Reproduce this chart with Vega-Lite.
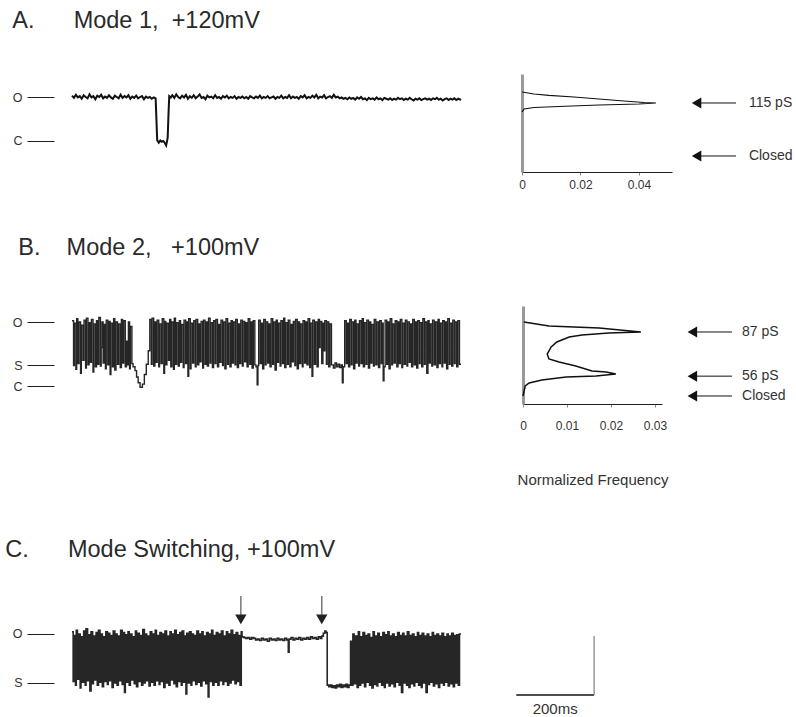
{
"$schema": "https://vega.github.io/schema/vega-lite/v6.json",
"padding": {"left": 5, "top": 8, "right": 0, "bottom": 0},
"background": "white",
"config": {"view": {"stroke": null}, "font": "Liberation Sans", "axis": {"grid": false},
  "title": {"fontSize": 23.5, "fontWeight": "normal", "color": "#2a2a2a", "anchor": "start", "frame": "bounds"}},
"datasets": {
"trA": [{"t":0,"v":1.03},{"t":5,"v":0.98},{"t":10,"v":1.05},{"t":15,"v":0.99},{"t":20,"v":1.02},{"t":25,"v":0.96},{"t":30,"v":1.04},{"t":35,"v":1.0},{"t":40,"v":0.97},{"t":45,"v":1.06},{"t":50,"v":0.99},{"t":55,"v":1.02},{"t":60,"v":0.95},{"t":65,"v":1.03},{"t":70,"v":1.0},{"t":75,"v":1.05},{"t":80,"v":0.97},{"t":85,"v":1.01},{"t":90,"v":0.98},{"t":95,"v":1.04},{"t":100,"v":0.99},{"t":105,"v":0.96},{"t":110,"v":1.03},{"t":115,"v":1.0},{"t":120,"v":0.97},{"t":125,"v":1.05},{"t":130,"v":0.98},{"t":135,"v":1.02},{"t":140,"v":0.99},{"t":145,"v":1.04},{"t":150,"v":0.96},{"t":155,"v":1.01},{"t":160,"v":0.98},{"t":165,"v":1.03},{"t":170,"v":0.97},{"t":175,"v":1.0},{"t":180,"v":1.02},{"t":185,"v":0.95},{"t":190,"v":1.01},{"t":195,"v":0.98},{"t":200,"v":1.0},{"t":205,"v":0.96},{"t":210,"v":0.99},{"t":215,"v":0.97},{"t":217,"v":0.5},{"t":219,"v":0.02},{"t":223,"v":-0.04},{"t":227,"v":0.01},{"t":231,"v":-0.02},{"t":235,"v":0.0},{"t":239,"v":-0.05},{"t":242,"v":-0.1},{"t":244,"v":-0.02},{"t":246,"v":0.08},{"t":248,"v":0.6},{"t":250,"v":1.02},{"t":254,"v":0.99},{"t":258,"v":1.04},{"t":263,"v":0.98},{"t":268,"v":1.06},{"t":273,"v":1.0},{"t":278,"v":0.97},{"t":283,"v":1.03},{"t":288,"v":0.99},{"t":293,"v":1.05},{"t":298,"v":0.96},{"t":303,"v":1.02},{"t":308,"v":0.98},{"t":313,"v":1.04},{"t":318,"v":0.97},{"t":323,"v":1.01},{"t":328,"v":1.06},{"t":333,"v":0.98},{"t":338,"v":1.0},{"t":343,"v":0.95},{"t":348,"v":1.03},{"t":353,"v":0.99},{"t":358,"v":1.01},{"t":363,"v":0.97},{"t":368,"v":1.04},{"t":373,"v":0.98},{"t":378,"v":1.0},{"t":383,"v":0.96},{"t":388,"v":1.02},{"t":393,"v":0.99},{"t":398,"v":1.03},{"t":403,"v":0.97},{"t":408,"v":1.0},{"t":413,"v":0.98},{"t":418,"v":1.02},{"t":423,"v":0.96},{"t":428,"v":1.0},{"t":433,"v":0.98},{"t":438,"v":1.01},{"t":443,"v":0.97},{"t":448,"v":1.0},{"t":453,"v":0.96},{"t":458,"v":1.02},{"t":463,"v":0.99},{"t":468,"v":0.97},{"t":473,"v":1.01},{"t":478,"v":0.98},{"t":483,"v":1.03},{"t":488,"v":0.97},{"t":493,"v":1.0},{"t":498,"v":0.98},{"t":503,"v":1.02},{"t":508,"v":0.97},{"t":513,"v":0.99},{"t":518,"v":1.01},{"t":523,"v":0.96},{"t":528,"v":1.0},{"t":533,"v":0.98},{"t":538,"v":1.03},{"t":543,"v":0.97},{"t":548,"v":1.0},{"t":553,"v":0.98},{"t":558,"v":1.04},{"t":563,"v":0.97},{"t":568,"v":1.01},{"t":573,"v":0.98},{"t":578,"v":1.0},{"t":583,"v":0.96},{"t":588,"v":1.02},{"t":593,"v":0.99},{"t":598,"v":1.04},{"t":603,"v":0.97},{"t":608,"v":1.0},{"t":613,"v":0.98},{"t":618,"v":1.03},{"t":623,"v":0.99},{"t":628,"v":1.05},{"t":633,"v":0.97},{"t":638,"v":1.01},{"t":643,"v":0.99},{"t":648,"v":1.04},{"t":653,"v":0.97},{"t":658,"v":1.0},{"t":663,"v":1.02},{"t":668,"v":0.98},{"t":673,"v":1.05},{"t":678,"v":0.99},{"t":683,"v":1.01},{"t":688,"v":0.97},{"t":693,"v":0.99},{"t":698,"v":0.96},{"t":703,"v":0.98},{"t":708,"v":0.95},{"t":713,"v":0.99},{"t":718,"v":0.96},{"t":723,"v":0.98},{"t":728,"v":0.94},{"t":733,"v":0.99},{"t":738,"v":0.96},{"t":743,"v":1.0},{"t":748,"v":0.95},{"t":753,"v":0.97},{"t":758,"v":0.93},{"t":763,"v":0.98},{"t":768,"v":0.95},{"t":773,"v":0.97},{"t":778,"v":0.94},{"t":783,"v":0.99},{"t":788,"v":0.95},{"t":793,"v":0.97},{"t":798,"v":0.93},{"t":803,"v":0.98},{"t":808,"v":0.96},{"t":813,"v":0.94},{"t":818,"v":0.97},{"t":823,"v":0.93},{"t":828,"v":0.96},{"t":833,"v":0.94},{"t":838,"v":0.98},{"t":843,"v":0.95},{"t":848,"v":0.97},{"t":853,"v":0.93},{"t":858,"v":0.96},{"t":863,"v":0.94},{"t":868,"v":0.98},{"t":873,"v":0.95},{"t":878,"v":0.92},{"t":883,"v":0.96},{"t":888,"v":0.94},{"t":893,"v":0.97},{"t":898,"v":0.93},{"t":903,"v":0.95},{"t":908,"v":0.97},{"t":913,"v":0.94},{"t":918,"v":0.96},{"t":923,"v":0.93},{"t":928,"v":0.97},{"t":933,"v":0.95},{"t":938,"v":0.98},{"t":943,"v":0.94},{"t":948,"v":0.96},{"t":953,"v":0.92},{"t":958,"v":0.95},{"t":963,"v":0.97},{"t":968,"v":0.93},{"t":973,"v":0.96},{"t":978,"v":0.94},{"t":983,"v":0.97},{"t":988,"v":0.93},{"t":993,"v":0.96},{"t":998,"v":0.94},{"t":1000,"v":0.95}],
"trB": [{"t":0,"v":1.02},{"t":4,"v":0.32},{"t":6,"v":0.98},{"t":10,"v":0.26},{"t":12,"v":1.05},{"t":15,"v":0.35},{"t":18,"v":1.0},{"t":22,"v":0.2},{"t":24,"v":0.95},{"t":28,"v":0.4},{"t":31,"v":1.03},{"t":35,"v":0.28},{"t":37,"v":1.06},{"t":41,"v":0.33},{"t":44,"v":0.99},{"t":47,"v":0.37},{"t":50,"v":1.04},{"t":54,"v":0.22},{"t":56,"v":0.97},{"t":60,"v":0.3},{"t":63,"v":1.02},{"t":66,"v":0.34},{"t":69,"v":1.07},{"t":73,"v":0.31},{"t":75,"v":0.6},{"t":77,"v":1.0},{"t":80,"v":0.36},{"t":83,"v":0.96},{"t":86,"v":0.27},{"t":88,"v":1.03},{"t":92,"v":0.33},{"t":95,"v":1.01},{"t":98,"v":0.18},{"t":100,"v":0.98},{"t":104,"v":0.3},{"t":107,"v":1.05},{"t":110,"v":0.25},{"t":113,"v":1.0},{"t":117,"v":0.34},{"t":120,"v":0.97},{"t":124,"v":0.29},{"t":127,"v":1.04},{"t":130,"v":0.36},{"t":133,"v":1.02},{"t":137,"v":0.3},{"t":140,"v":0.7},{"t":142,"v":0.33},{"t":145,"v":1.0},{"t":148,"v":0.27},{"t":150,"v":0.93},{"t":154,"v":0.35},{"t":157,"v":0.3},{"t":162,"v":0.24},{"t":166,"v":0.14},{"t":170,"v":0.05},{"t":175,"v":-0.02},{"t":181,"v":0.03},{"t":186,"v":0.18},{"t":191,"v":0.34},{"t":196,"v":0.55},{"t":200,"v":1.04},{"t":204,"v":0.34},{"t":206,"v":1.06},{"t":210,"v":0.31},{"t":213,"v":1.0},{"t":216,"v":0.37},{"t":219,"v":1.03},{"t":223,"v":0.3},{"t":225,"v":0.97},{"t":229,"v":0.35},{"t":232,"v":1.05},{"t":236,"v":0.2},{"t":238,"v":1.01},{"t":241,"v":0.33},{"t":244,"v":0.98},{"t":248,"v":0.4},{"t":251,"v":1.04},{"t":254,"v":0.3},{"t":257,"v":1.0},{"t":261,"v":0.26},{"t":263,"v":1.06},{"t":266,"v":0.34},{"t":269,"v":0.99},{"t":273,"v":0.31},{"t":276,"v":1.02},{"t":279,"v":0.37},{"t":282,"v":0.96},{"t":286,"v":0.29},{"t":288,"v":1.03},{"t":292,"v":0.35},{"t":295,"v":1.0},{"t":298,"v":0.15},{"t":300,"v":1.05},{"t":304,"v":0.27},{"t":306,"v":0.98},{"t":310,"v":0.36},{"t":313,"v":1.02},{"t":317,"v":0.3},{"t":319,"v":1.04},{"t":323,"v":0.33},{"t":326,"v":0.97},{"t":329,"v":0.38},{"t":332,"v":1.01},{"t":336,"v":0.28},{"t":338,"v":1.03},{"t":342,"v":0.34},{"t":345,"v":1.0},{"t":348,"v":0.31},{"t":351,"v":1.06},{"t":355,"v":0.36},{"t":357,"v":0.99},{"t":361,"v":0.29},{"t":364,"v":1.02},{"t":368,"v":0.35},{"t":370,"v":1.04},{"t":374,"v":0.3},{"t":377,"v":0.96},{"t":380,"v":0.37},{"t":383,"v":1.03},{"t":387,"v":0.32},{"t":389,"v":1.0},{"t":393,"v":0.27},{"t":396,"v":1.05},{"t":400,"v":0.34},{"t":402,"v":0.98},{"t":406,"v":0.3},{"t":409,"v":1.02},{"t":412,"v":0.36},{"t":415,"v":1.0},{"t":419,"v":0.33},{"t":421,"v":1.04},{"t":425,"v":0.29},{"t":428,"v":0.97},{"t":431,"v":0.35},{"t":434,"v":1.03},{"t":438,"v":0.31},{"t":440,"v":1.01},{"t":444,"v":0.38},{"t":447,"v":0.99},{"t":450,"v":0.3},{"t":453,"v":1.05},{"t":457,"v":0.34},{"t":460,"v":1.0},{"t":463,"v":0.28},{"t":466,"v":1.02},{"t":470,"v":0.33},{"t":473,"v":0.3},{"t":476,"v":0.02},{"t":478,"v":0.32},{"t":480,"v":1.03},{"t":484,"v":0.35},{"t":487,"v":0.98},{"t":490,"v":0.27},{"t":493,"v":1.04},{"t":497,"v":0.33},{"t":499,"v":1.0},{"t":503,"v":0.36},{"t":506,"v":0.97},{"t":509,"v":0.3},{"t":512,"v":1.05},{"t":516,"v":0.34},{"t":518,"v":1.0},{"t":522,"v":0.25},{"t":525,"v":1.03},{"t":528,"v":0.37},{"t":531,"v":0.98},{"t":535,"v":0.31},{"t":537,"v":1.02},{"t":541,"v":0.35},{"t":544,"v":1.06},{"t":547,"v":0.29},{"t":550,"v":0.99},{"t":554,"v":0.34},{"t":556,"v":1.03},{"t":560,"v":0.3},{"t":563,"v":0.96},{"t":566,"v":0.38},{"t":569,"v":1.01},{"t":573,"v":0.32},{"t":575,"v":1.04},{"t":579,"v":0.27},{"t":582,"v":1.0},{"t":585,"v":0.35},{"t":588,"v":0.97},{"t":592,"v":0.3},{"t":594,"v":1.02},{"t":598,"v":0.36},{"t":601,"v":1.0},{"t":604,"v":0.33},{"t":607,"v":1.05},{"t":611,"v":0.29},{"t":613,"v":0.98},{"t":617,"v":0.15},{"t":619,"v":1.03},{"t":623,"v":0.34},{"t":626,"v":1.0},{"t":630,"v":0.3},{"t":633,"v":1.04},{"t":636,"v":0.6},{"t":638,"v":1.01},{"t":642,"v":0.35},{"t":645,"v":0.98},{"t":648,"v":0.55},{"t":650,"v":1.02},{"t":654,"v":0.34},{"t":656,"v":1.0},{"t":660,"v":0.3},{"t":663,"v":0.97},{"t":667,"v":0.33},{"t":672,"v":0.28},{"t":676,"v":0.36},{"t":680,"v":0.3},{"t":684,"v":0.34},{"t":688,"v":0.29},{"t":692,"v":0.33},{"t":695,"v":0.05},{"t":697,"v":0.3},{"t":701,"v":1.02},{"t":705,"v":0.35},{"t":708,"v":0.98},{"t":711,"v":0.3},{"t":714,"v":1.04},{"t":718,"v":0.33},{"t":720,"v":1.0},{"t":724,"v":0.27},{"t":727,"v":1.03},{"t":730,"v":0.36},{"t":733,"v":0.97},{"t":737,"v":0.31},{"t":739,"v":1.02},{"t":743,"v":0.35},{"t":746,"v":1.05},{"t":749,"v":0.3},{"t":752,"v":0.99},{"t":756,"v":0.34},{"t":758,"v":1.03},{"t":762,"v":0.28},{"t":765,"v":1.0},{"t":768,"v":0.36},{"t":771,"v":0.96},{"t":775,"v":0.31},{"t":777,"v":1.04},{"t":781,"v":0.33},{"t":784,"v":1.0},{"t":788,"v":0.29},{"t":791,"v":1.02},{"t":795,"v":0.35},{"t":797,"v":0.98},{"t":800,"v":0.08},{"t":802,"v":0.3},{"t":805,"v":1.03},{"t":809,"v":0.34},{"t":812,"v":1.0},{"t":815,"v":0.27},{"t":818,"v":1.05},{"t":822,"v":0.33},{"t":824,"v":0.97},{"t":828,"v":0.36},{"t":831,"v":1.02},{"t":835,"v":0.3},{"t":838,"v":1.0},{"t":841,"v":0.35},{"t":844,"v":1.04},{"t":848,"v":0.29},{"t":850,"v":0.98},{"t":854,"v":0.34},{"t":857,"v":1.03},{"t":861,"v":0.31},{"t":863,"v":1.0},{"t":867,"v":0.37},{"t":870,"v":0.97},{"t":873,"v":0.3},{"t":876,"v":1.04},{"t":880,"v":0.33},{"t":883,"v":1.0},{"t":886,"v":0.28},{"t":889,"v":1.02},{"t":893,"v":0.35},{"t":895,"v":0.99},{"t":899,"v":0.3},{"t":902,"v":1.05},{"t":906,"v":0.34},{"t":908,"v":1.0},{"t":912,"v":0.2},{"t":915,"v":1.02},{"t":918,"v":0.36},{"t":921,"v":0.97},{"t":925,"v":0.31},{"t":927,"v":1.03},{"t":931,"v":0.33},{"t":934,"v":1.0},{"t":938,"v":0.29},{"t":941,"v":1.04},{"t":944,"v":0.35},{"t":947,"v":0.98},{"t":951,"v":0.3},{"t":953,"v":1.02},{"t":957,"v":0.36},{"t":960,"v":1.0},{"t":963,"v":0.27},{"t":966,"v":1.05},{"t":970,"v":0.34},{"t":972,"v":0.98},{"t":976,"v":0.31},{"t":979,"v":1.03},{"t":983,"v":0.35},{"t":985,"v":1.0},{"t":989,"v":0.3},{"t":992,"v":1.02},{"t":996,"v":0.34},{"t":1000,"v":0.34}],
"trC": [{"t":0,"v":1.03},{"t":3,"v":0.35},{"t":5,"v":0.98},{"t":9,"v":0.3},{"t":11,"v":1.05},{"t":14,"v":0.38},{"t":17,"v":1.0},{"t":21,"v":0.26},{"t":23,"v":0.96},{"t":27,"v":0.34},{"t":30,"v":1.04},{"t":34,"v":0.3},{"t":36,"v":1.07},{"t":40,"v":0.36},{"t":43,"v":0.99},{"t":46,"v":0.22},{"t":49,"v":1.03},{"t":53,"v":0.32},{"t":55,"v":0.97},{"t":59,"v":0.37},{"t":62,"v":1.02},{"t":65,"v":0.3},{"t":68,"v":1.05},{"t":72,"v":0.34},{"t":74,"v":1.0},{"t":78,"v":0.28},{"t":81,"v":0.96},{"t":84,"v":0.35},{"t":87,"v":1.03},{"t":91,"v":0.31},{"t":93,"v":1.01},{"t":97,"v":0.36},{"t":100,"v":0.98},{"t":103,"v":0.27},{"t":106,"v":1.04},{"t":110,"v":0.33},{"t":112,"v":1.0},{"t":116,"v":0.3},{"t":119,"v":0.97},{"t":122,"v":0.36},{"t":125,"v":1.05},{"t":129,"v":0.31},{"t":131,"v":1.02},{"t":135,"v":0.2},{"t":137,"v":0.99},{"t":141,"v":0.34},{"t":144,"v":1.03},{"t":147,"v":0.3},{"t":150,"v":1.0},{"t":154,"v":0.37},{"t":156,"v":0.96},{"t":160,"v":0.32},{"t":163,"v":1.04},{"t":166,"v":0.28},{"t":169,"v":1.01},{"t":173,"v":0.35},{"t":175,"v":0.98},{"t":179,"v":0.3},{"t":182,"v":1.06},{"t":186,"v":0.33},{"t":188,"v":1.0},{"t":192,"v":0.36},{"t":195,"v":0.97},{"t":198,"v":0.29},{"t":201,"v":1.03},{"t":205,"v":0.34},{"t":207,"v":1.0},{"t":211,"v":0.3},{"t":214,"v":1.05},{"t":217,"v":0.36},{"t":220,"v":0.98},{"t":224,"v":0.31},{"t":226,"v":1.02},{"t":230,"v":0.35},{"t":233,"v":1.0},{"t":236,"v":0.27},{"t":239,"v":1.04},{"t":243,"v":0.33},{"t":245,"v":0.97},{"t":249,"v":0.3},{"t":252,"v":1.03},{"t":255,"v":0.37},{"t":258,"v":1.0},{"t":262,"v":0.32},{"t":264,"v":1.05},{"t":268,"v":0.28},{"t":271,"v":0.99},{"t":274,"v":0.35},{"t":277,"v":1.02},{"t":281,"v":0.3},{"t":283,"v":1.04},{"t":287,"v":0.34},{"t":290,"v":0.97},{"t":293,"v":0.18},{"t":295,"v":1.01},{"t":299,"v":0.33},{"t":302,"v":1.03},{"t":306,"v":0.3},{"t":308,"v":1.0},{"t":312,"v":0.36},{"t":315,"v":0.98},{"t":318,"v":0.31},{"t":321,"v":1.04},{"t":325,"v":0.34},{"t":327,"v":1.0},{"t":331,"v":0.29},{"t":334,"v":1.03},{"t":337,"v":0.36},{"t":340,"v":0.97},{"t":344,"v":0.32},{"t":346,"v":1.02},{"t":350,"v":0.14},{"t":352,"v":1.0},{"t":356,"v":0.35},{"t":359,"v":1.05},{"t":362,"v":0.3},{"t":365,"v":0.98},{"t":369,"v":0.34},{"t":371,"v":1.02},{"t":375,"v":0.3},{"t":378,"v":1.0},{"t":381,"v":0.36},{"t":384,"v":1.04},{"t":388,"v":0.31},{"t":390,"v":0.97},{"t":394,"v":0.35},{"t":397,"v":1.03},{"t":400,"v":0.3},{"t":403,"v":1.0},{"t":407,"v":0.33},{"t":409,"v":1.05},{"t":413,"v":0.37},{"t":416,"v":0.99},{"t":419,"v":0.32},{"t":422,"v":1.02},{"t":426,"v":0.35},{"t":428,"v":0.98},{"t":432,"v":0.3},{"t":435,"v":1.03},{"t":437,"v":0.96},{"t":442,"v":0.95},{"t":447,"v":0.94},{"t":452,"v":0.95},{"t":457,"v":0.93},{"t":462,"v":0.95},{"t":467,"v":0.94},{"t":472,"v":0.92},{"t":477,"v":0.93},{"t":482,"v":0.91},{"t":487,"v":0.94},{"t":492,"v":0.92},{"t":497,"v":0.93},{"t":502,"v":0.9},{"t":507,"v":0.94},{"t":512,"v":0.92},{"t":517,"v":0.93},{"t":522,"v":0.91},{"t":527,"v":0.94},{"t":532,"v":0.92},{"t":537,"v":0.93},{"t":542,"v":0.91},{"t":547,"v":0.94},{"t":552,"v":0.92},{"t":556,"v":0.75},{"t":558,"v":0.93},{"t":563,"v":0.95},{"t":568,"v":0.92},{"t":573,"v":0.94},{"t":578,"v":0.93},{"t":583,"v":0.95},{"t":588,"v":0.92},{"t":593,"v":0.94},{"t":598,"v":0.93},{"t":603,"v":0.95},{"t":608,"v":0.93},{"t":613,"v":0.96},{"t":618,"v":0.94},{"t":623,"v":0.95},{"t":628,"v":0.93},{"t":633,"v":0.96},{"t":638,"v":0.94},{"t":642,"v":0.97},{"t":646,"v":1.01},{"t":650,"v":1.04},{"t":653,"v":1.02},{"t":656,"v":0.3},{"t":660,"v":0.28},{"t":664,"v":0.3},{"t":668,"v":0.27},{"t":672,"v":0.29},{"t":676,"v":0.26},{"t":680,"v":0.3},{"t":684,"v":0.28},{"t":688,"v":0.31},{"t":692,"v":0.27},{"t":696,"v":0.3},{"t":700,"v":0.28},{"t":704,"v":0.31},{"t":708,"v":0.27},{"t":712,"v":0.3},{"t":716,"v":0.9},{"t":718,"v":0.3},{"t":722,"v":1.0},{"t":725,"v":0.32},{"t":729,"v":0.97},{"t":733,"v":0.27},{"t":736,"v":1.03},{"t":739,"v":0.3},{"t":742,"v":0.96},{"t":746,"v":0.33},{"t":748,"v":1.02},{"t":752,"v":0.28},{"t":755,"v":0.98},{"t":758,"v":0.34},{"t":761,"v":1.0},{"t":765,"v":0.3},{"t":767,"v":0.95},{"t":771,"v":0.26},{"t":774,"v":1.03},{"t":777,"v":0.31},{"t":780,"v":0.97},{"t":784,"v":0.29},{"t":786,"v":1.01},{"t":790,"v":0.34},{"t":793,"v":0.96},{"t":796,"v":0.3},{"t":799,"v":1.02},{"t":803,"v":0.27},{"t":805,"v":0.99},{"t":809,"v":0.33},{"t":812,"v":1.03},{"t":815,"v":0.29},{"t":818,"v":0.97},{"t":822,"v":0.32},{"t":824,"v":1.0},{"t":828,"v":0.28},{"t":831,"v":0.96},{"t":834,"v":0.34},{"t":837,"v":1.02},{"t":841,"v":0.3},{"t":843,"v":0.98},{"t":847,"v":0.2},{"t":850,"v":1.01},{"t":853,"v":0.33},{"t":856,"v":0.97},{"t":860,"v":0.3},{"t":862,"v":1.03},{"t":866,"v":0.27},{"t":869,"v":0.98},{"t":872,"v":0.32},{"t":875,"v":1.0},{"t":879,"v":0.29},{"t":881,"v":0.96},{"t":885,"v":0.34},{"t":888,"v":1.02},{"t":891,"v":0.3},{"t":894,"v":0.98},{"t":898,"v":0.27},{"t":900,"v":1.01},{"t":904,"v":0.33},{"t":907,"v":0.97},{"t":910,"v":0.2},{"t":913,"v":1.0},{"t":917,"v":0.31},{"t":919,"v":0.96},{"t":923,"v":0.34},{"t":926,"v":1.02},{"t":929,"v":0.29},{"t":932,"v":0.98},{"t":936,"v":0.32},{"t":938,"v":1.0},{"t":942,"v":0.27},{"t":945,"v":0.97},{"t":948,"v":0.33},{"t":951,"v":1.01},{"t":955,"v":0.3},{"t":957,"v":0.96},{"t":961,"v":0.34},{"t":964,"v":1.0},{"t":967,"v":0.29},{"t":970,"v":0.97},{"t":974,"v":0.32},{"t":976,"v":1.01},{"t":980,"v":0.28},{"t":983,"v":0.98},{"t":986,"v":0.33},{"t":989,"v":0.99},{"t":993,"v":0.3},{"t":996,"v":1.0},{"t":1000,"v":1.0}],
"hA": [{"f":0,"v":1.208},{"f":0.0041,"v":1.17},{"f":0.0092,"v":1.142},{"f":0.0178,"v":1.113},{"f":0.0263,"v":1.075},{"f":0.0349,"v":1.038},{"f":0.0417,"v":1.009},{"f":0.0458,"v":1.0},{"f":0.04,"v":0.981},{"f":0.0263,"v":0.962},{"f":0.0126,"v":0.934},{"f":0.0041,"v":0.915},{"f":0.0007,"v":0.887},{"f":0,"v":0.83}],
"hB": [{"f":0.0002,"v":1.156},{"f":0.0059,"v":1.094},{"f":0.0173,"v":1.0625},{"f":0.0268,"v":1.0},{"f":0.0195,"v":0.984},{"f":0.0134,"v":0.953},{"f":0.0105,"v":0.922},{"f":0.0077,"v":0.844},{"f":0.0064,"v":0.766},{"f":0.0055,"v":0.656},{"f":0.0059,"v":0.578},{"f":0.0082,"v":0.531},{"f":0.012,"v":0.469},{"f":0.0157,"v":0.391},{"f":0.0189,"v":0.375},{"f":0.0211,"v":0.344},{"f":0.0166,"v":0.3125},{"f":0.0098,"v":0.297},{"f":0.0043,"v":0.25},{"f":0.0014,"v":0.203},{"f":0.0005,"v":0.156},{"f":0.0002,"v":0.0625},{"f":0,"v":0}],
"annA": [{"label":"115 pS","v":1},{"label":"Closed","v":0}],
"annB": [{"label":"87 pS","v":1},{"label":"56 pS","v":0.31},{"label":"Closed","v":0}],
"sw": [{"t":434},{"t":642}],
"bar": [{"label":"200ms"}]
},
"spacing": 50,
"vconcat": [
 {"spacing": 45, "vconcat": [
  {"title": {"text": "A.\u00a0\u00a0\u00a0\u00a0\u00a0\u00a0Mode 1,\u00a0\u00a0+120mV", "offset": 42, "dx": 0},
   "spacing": 53,
   "hconcat": [
    {"width": 389, "height": 98, "data": {"name": "trA"},
     "mark": {"type": "line", "color": "#111", "strokeWidth": 2},
     "encoding": {
      "x": {"field": "t", "type": "quantitative", "scale": {"domain": [0, 1000], "nice": false}, "axis": null},
      "y": {"field": "v", "type": "quantitative", "scale": {"domain": [-0.705, 1.523], "nice": false, "zero": false},
            "axis": {"values": [0, 1], "labelExpr": "datum.value > 0.9 ? 'O' : datum.value > 0.2 ? 'S' : 'C'", "title": null, "domain": false, "tickSize": 27, "offset": 18, "labelPadding": 5, "labelFontSize": 12.5, "labelColor": "#333", "tickColor": "#222"}}}},
    {"width": 150, "height": 98,
     "layer": [
      {"data": {"name": "hA"}, "mark": {"type": "line", "color": "#111", "strokeWidth": 1.2},
       "encoding": {
        "x": {"field": "f", "type": "quantitative", "scale": {"domain": [0, 0.0513], "nice": false},
              "axis": {"values": [0, 0.02, 0.04], "format": "~g", "title": null, "domainColor": "#222", "tickColor": "#888", "tickSize": 3, "labelFontSize": 12, "labelColor": "#333", "labelPadding": 4, "labelFlush": false}},
        "y": {"field": "v", "type": "quantitative", "scale": {"domain": [-0.302, 1.547], "nice": false, "zero": false},
              "axis": {"title": null, "labels": false, "ticks": false, "domainColor": "#999", "domainWidth": 3}},
        "order": {"field": "v", "type": "quantitative", "sort": "descending"}}},
      {"data": {"name": "annA"}, "mark": {"type": "rule", "color": "#111", "strokeWidth": 1},
       "encoding": {"x": {"datum": 0.0597}, "x2": {"datum": 0.0732}, "y": {"field": "v", "type": "quantitative"}}},
      {"data": {"name": "annA"}, "mark": {"type": "point", "shape": "triangle-left", "filled": true, "color": "#111", "opacity": 1, "size": 120},
       "encoding": {"x": {"datum": 0.0597}, "y": {"field": "v", "type": "quantitative"}}},
      {"data": {"name": "annA"}, "mark": {"type": "text", "align": "left", "baseline": "middle", "fontSize": 14, "color": "#333"},
       "encoding": {"x": {"datum": 0.0776}, "y": {"field": "v", "type": "quantitative"}, "text": {"field": "label"}}}
     ]}
   ]},
  {"title": {"text": "B.\u00a0\u00a0\u00a0\u00a0Mode 2,\u00a0\u00a0\u00a0+100mV", "offset": 47, "dx": 6},
   "spacing": 53,
   "hconcat": [
    {"width": 389, "height": 98, "data": {"name": "trB"},
     "mark": {"type": "line", "color": "#1a1a1a", "strokeWidth": 1.4, "interpolate": "step-after", "opacity": 0.95},
     "encoding": {
      "x": {"field": "t", "type": "quantitative", "scale": {"domain": [0, 1000], "nice": false}, "axis": null},
      "y": {"field": "v", "type": "quantitative", "scale": {"domain": [-0.281, 1.25], "nice": false, "zero": false},
            "axis": {"values": [0, 0.328, 1], "labelExpr": "datum.value > 0.9 ? 'O' : datum.value > 0.2 ? 'S' : 'C'", "title": null, "domain": false, "tickSize": 27, "offset": 18, "labelPadding": 5, "labelFontSize": 12.5, "labelColor": "#333", "tickColor": "#222"}}}},
    {"width": 139, "height": 98,
     "layer": [
      {"data": {"name": "hB"}, "mark": {"type": "line", "color": "#111", "strokeWidth": 1.5},
       "encoding": {
        "x": {"field": "f", "type": "quantitative", "scale": {"domain": [0, 0.0316], "nice": false},
              "axis": {"values": [0, 0.01, 0.02, 0.03], "format": "~g", "title": "Normalized Frequency", "titleFontSize": 15, "titleFontWeight": "normal", "titleColor": "#333", "titlePadding": 41, "domainColor": "#222", "tickColor": "#888", "tickSize": 3, "labelFontSize": 12, "labelColor": "#333", "labelPadding": 13, "labelFlush": false}},
        "y": {"field": "v", "type": "quantitative", "scale": {"domain": [-0.125, 1.406], "nice": false, "zero": false},
              "axis": {"title": null, "labels": false, "ticks": false, "domainColor": "#999", "domainWidth": 3}},
        "order": {"field": "v", "type": "quantitative", "sort": "descending"}}},
      {"data": {"name": "annB"}, "mark": {"type": "rule", "color": "#111", "strokeWidth": 1},
       "encoding": {"x": {"datum": 0.0385}, "x2": {"datum": 0.0475}, "y": {"field": "v", "type": "quantitative"}}},
      {"data": {"name": "annB"}, "mark": {"type": "point", "shape": "triangle-left", "filled": true, "color": "#111", "opacity": 1, "size": 120},
       "encoding": {"x": {"datum": 0.0385}, "y": {"field": "v", "type": "quantitative"}}},
      {"data": {"name": "annB"}, "mark": {"type": "text", "align": "left", "baseline": "middle", "fontSize": 14, "color": "#333"},
       "encoding": {"x": {"datum": 0.0498}, "y": {"field": "v", "type": "quantitative"}, "text": {"field": "label"}}}
     ]}
   ]}
 ]},
 {"title": {"text": "C.\u00a0\u00a0\u00a0\u00a0\u00a0\u00a0Mode Switching,\u00a0+100mV", "offset": 30, "dx": -7},
  "width": 540, "height": 122,
  "layer": [
   {"data": {"name": "trC"},
    "mark": {"type": "line", "color": "#1a1a1a", "strokeWidth": 1.6, "interpolate": "step-after", "opacity": 0.95},
    "encoding": {
     "x": {"field": "t", "type": "quantitative", "scale": {"domain": [0, 1388], "nice": false}, "axis": null},
     "y": {"field": "v", "type": "quantitative", "scale": {"domain": [-0.081, 1.588], "nice": false, "zero": false},
           "axis": {"values": [0.33, 1], "labelExpr": "datum.value > 0.9 ? 'O' : datum.value > 0.2 ? 'S' : 'C'", "title": null, "domain": false, "tickSize": 27, "offset": 18, "labelPadding": 5, "labelFontSize": 12.5, "labelColor": "#333", "tickColor": "#222"}}}},
   {"data": {"name": "sw"}, "mark": {"type": "rule", "color": "#777", "strokeWidth": 1.5},
    "encoding": {"x": {"field": "t", "type": "quantitative"}, "y": {"datum": 1.52}, "y2": {"datum": 1.25}}},
   {"data": {"name": "sw"}, "mark": {"type": "point", "shape": "triangle-down", "filled": true, "color": "#222", "opacity": 1, "size": 130},
    "encoding": {"x": {"field": "t", "type": "quantitative"}, "y": {"datum": 1.2}}},
   {"data": {"name": "bar"}, "mark": {"type": "rule", "color": "#111", "strokeWidth": 1.3},
    "encoding": {"x": {"datum": 1142}, "x2": {"datum": 1342}, "y": {"datum": 0.1655}}},
   {"data": {"name": "bar"}, "mark": {"type": "rule", "color": "#888", "strokeWidth": 1.3},
    "encoding": {"x": {"datum": 1342}, "y": {"datum": 0.1655}, "y2": {"datum": 0.973}}},
   {"data": {"name": "bar"}, "mark": {"type": "text", "align": "center", "baseline": "middle", "fontSize": 15, "color": "#333"},
    "encoding": {"x": {"datum": 1242}, "y": {"datum": -0.026}, "text": {"field": "label"}}}
  ]}
]
}
